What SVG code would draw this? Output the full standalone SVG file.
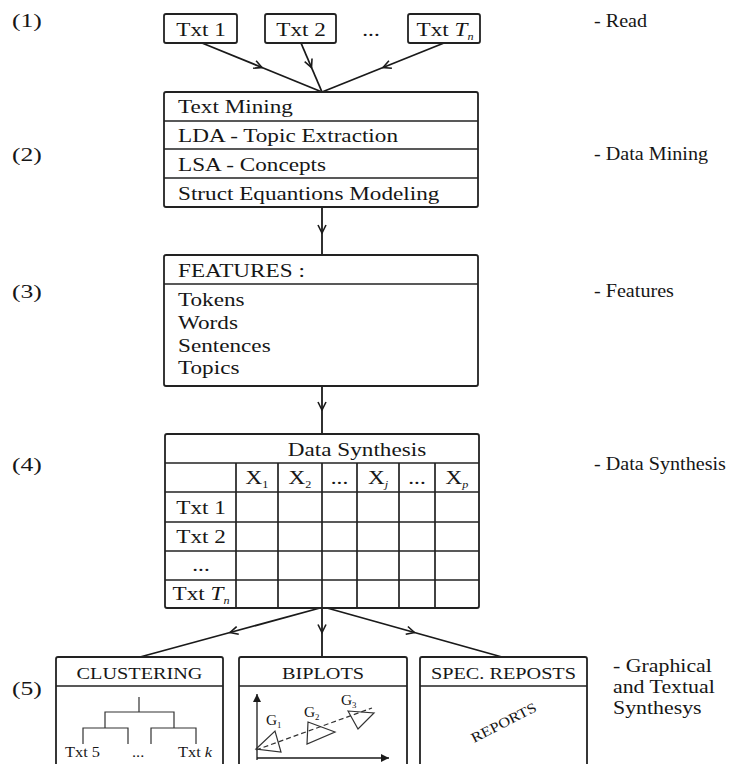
<svg xmlns="http://www.w3.org/2000/svg" width="729" height="764" viewBox="0 0 729 764">
<style>
.t{font-family:"Liberation Serif","Times New Roman",serif;font-size:19px;fill:#161616}
.h{font-family:"Liberation Serif","Times New Roman",serif;font-size:17px;fill:#161616}
.s{font-family:"Liberation Serif","Times New Roman",serif;font-size:14px;fill:#161616}
.g{font-family:"Liberation Serif","Times New Roman",serif;font-size:14px;fill:#161616}
.m{text-anchor:middle}
.box{fill:#fff;stroke:#222;stroke-width:1.8}
.ln{stroke:#222;stroke-width:1.7;fill:none}
.thin{stroke:#333;stroke-width:1.2;fill:none}
.conn{stroke:#1a1a1a;stroke-width:1.8;fill:none;marker-mid:url(#chev)}
.ax{stroke:#1a1a1a;stroke-width:1.3;fill:none;marker-end:url(#tri)}
</style>
<defs>
<marker id="chev" viewBox="0 0 10 10" refX="9" refY="5" markerWidth="10" markerHeight="10" markerUnits="userSpaceOnUse" orient="auto">
<path d="M1,1 L9,5 L1,9" fill="none" stroke="#1a1a1a" stroke-width="1.6"/>
</marker>
<marker id="tri" viewBox="0 0 10 10" refX="10" refY="5" markerWidth="9" markerHeight="8" markerUnits="userSpaceOnUse" orient="auto">
<path d="M0,0 L10,5 L0,10 z" fill="#1a1a1a"/>
</marker>
</defs>
<rect width="729" height="764" fill="#fff"/>

<g id="step-labels">
<text class="t" transform="translate(12,27) scale(1.35,1)">(1)</text>
<text class="t" transform="translate(12,161) scale(1.35,1)">(2)</text>
<text class="t" transform="translate(12,298) scale(1.35,1)">(3)</text>
<text class="t" transform="translate(12,471) scale(1.35,1)">(4)</text>
<text class="t" transform="translate(12,695) scale(1.35,1)">(5)</text>
</g>

<g id="stage-labels">
<text class="t" transform="translate(594,27) scale(1.06,1)">- Read</text>
<text class="t" transform="translate(594,160) scale(1.06,1)">- Data Mining</text>
<text class="t" transform="translate(594,297) scale(1.06,1)">- Features</text>
<text class="t" transform="translate(594,470) scale(1.06,1)">- Data Synthesis</text>
<text class="t" transform="translate(613,672) scale(1.15,1)" font-size="20">- Graphical</text>
<text class="t" transform="translate(613,693) scale(1.15,1)" font-size="20">and Textual</text>
<text class="t" transform="translate(613,714) scale(1.15,1)" font-size="20">Synthesys</text>
</g>

<g id="connectors">
<path class="conn" d="M202,43 L262,67.5 L322,92"/>
<path class="conn" d="M301,43 L311.5,67.5 L322,92"/>
<path class="conn" d="M444,43 L383,67.5 L322,92"/>
<path class="conn" d="M322,207 L322,233 L322,255"/>
<path class="conn" d="M322,386 L322,410 L322,434"/>
<path class="conn" d="M320,608 L230,632.5 L140,657"/>
<path class="conn" d="M322,608 L322,632.5 L322,657"/>
<path class="conn" d="M327,608 L414.5,632.5 L502,657"/>
</g>

<g id="txt1">
<rect class="box" x="164" y="14" width="73" height="29" rx="2"/>
<text class="t m" transform="translate(201,36) scale(1.22,1)">Txt 1</text>
</g>
<g id="txt2">
<rect class="box" x="265" y="14" width="71" height="29" rx="2"/>
<text class="t m" transform="translate(301,36) scale(1.22,1)">Txt 2</text>
</g>
<g id="txt-ellipsis">
<text class="t m" transform="translate(371,36) scale(1.22,1)">...</text>
</g>
<g id="txtTn">
<rect class="box" x="408" y="14" width="72" height="29" rx="2"/>
<text class="t m" transform="translate(445,36) scale(1.22,1)">Txt <tspan font-style="italic">T</tspan><tspan font-style="italic" font-size="10" dy="4">n</tspan></text>
</g>

<g id="data-mining">
<rect class="box" x="164" y="92" width="314" height="115" rx="2"/>
<line class="ln" x1="164" y1="121" x2="478" y2="121"/>
<line class="ln" x1="164" y1="149" x2="478" y2="149"/>
<line class="ln" x1="164" y1="178" x2="478" y2="178"/>
<text class="t" transform="translate(178,113) scale(1.22,1)">Text Mining</text>
<text class="t" transform="translate(178,142) scale(1.22,1)">LDA - Topic Extraction</text>
<text class="t" transform="translate(178,171) scale(1.22,1)">LSA - Concepts</text>
<text class="t" transform="translate(178,200) scale(1.22,1)">Struct Equantions Modeling</text>
</g>

<g id="features">
<rect class="box" x="164" y="255" width="314" height="131" rx="2"/>
<line class="ln" x1="164" y1="284" x2="478" y2="284"/>
<text class="t" transform="translate(178,277) scale(1.22,1)">FEATURES :</text>
<text class="t" transform="translate(178,306) scale(1.22,1)">Tokens</text>
<text class="t" transform="translate(178,329) scale(1.22,1)">Words</text>
<text class="t" transform="translate(178,352) scale(1.22,1)">Sentences</text>
<text class="t" transform="translate(178,374) scale(1.22,1)">Topics</text>
</g>

<g id="data-synthesis">
<rect class="box" x="165" y="434" width="314" height="174" rx="2"/>
<line class="ln" x1="165" y1="463" x2="479" y2="463"/>
<line class="ln" x1="165" y1="492" x2="479" y2="492"/>
<line class="ln" x1="165" y1="522" x2="479" y2="522"/>
<line class="ln" x1="165" y1="551" x2="479" y2="551"/>
<line class="ln" x1="165" y1="580" x2="479" y2="580"/>
<line class="ln" x1="236" y1="463" x2="236" y2="608"/>
<line class="ln" x1="278" y1="463" x2="278" y2="608"/>
<line class="ln" x1="322" y1="463" x2="322" y2="608"/>
<line class="ln" x1="357" y1="463" x2="357" y2="608"/>
<line class="ln" x1="399" y1="463" x2="399" y2="608"/>
<line class="ln" x1="435" y1="463" x2="435" y2="608"/>
<text class="t m" transform="translate(357,456) scale(1.22,1)">Data Synthesis</text>
<text class="t m" transform="translate(257,484) scale(1.22,1)">X<tspan font-size="10" dy="4">1</tspan></text>
<text class="t m" transform="translate(300,484) scale(1.22,1)">X<tspan font-size="10" dy="4">2</tspan></text>
<text class="t m" transform="translate(339.5,484) scale(1.22,1)">...</text>
<text class="t m" transform="translate(378,484) scale(1.22,1)">X<tspan font-size="10" dy="4" font-style="italic">j</tspan></text>
<text class="t m" transform="translate(417,484) scale(1.22,1)">...</text>
<text class="t m" transform="translate(457,484) scale(1.22,1)">X<tspan font-size="10" dy="4" font-style="italic">p</tspan></text>
<text class="t m" transform="translate(201,514) scale(1.22,1)">Txt 1</text>
<text class="t m" transform="translate(201,543) scale(1.22,1)">Txt 2</text>
<text class="t m" transform="translate(201,571) scale(1.22,1)">...</text>
<text class="t m" transform="translate(201,600) scale(1.22,1)">Txt <tspan font-style="italic">T</tspan><tspan font-style="italic" font-size="10" dy="4">n</tspan></text>
</g>

<g id="clustering">
<rect class="box" x="56" y="657" width="167" height="130" rx="2"/>
<line class="ln" x1="56" y1="686" x2="223" y2="686"/>
<text class="h m" transform="translate(139.5,679) scale(1.19,1)">CLUSTERING</text>
<path class="thin" d="M139,697 V712 M105,728 V712 H174 V728 M83,744 V728 H128 V744 M151,744 V728 H196 V744"/>
<text class="s" transform="translate(65,757) scale(1.17,1)">Txt 5</text>
<text class="s" transform="translate(132,757) scale(1.17,1)">...</text>
<text class="s" transform="translate(178,757) scale(1.17,1)">Txt <tspan font-style="italic">k</tspan></text>
</g>

<g id="biplots">
<rect class="box" x="239" y="657" width="168" height="130" rx="2"/>
<line class="ln" x1="239" y1="686" x2="407" y2="686"/>
<text class="h m" transform="translate(323,679) scale(1.19,1)">BIPLOTS</text>
<path class="ax" d="M257,760 V694"/>
<path class="ax" d="M257,758 H389"/>
<path class="thin" d="M256,749 L275,731 L281,752 Z"/>
<path class="thin" d="M308,722 L335,732 L307,744 Z"/>
<path class="thin" d="M348,711 L374,713 L358,729 Z"/>
<path class="thin" d="M256,750 L372,708" stroke-dasharray="5,3"/>
<text class="g" transform="translate(266,725) scale(1.1,1)">G<tspan font-size="8" dy="3">1</tspan></text>
<text class="g" transform="translate(304,717) scale(1.1,1)">G<tspan font-size="8" dy="3">2</tspan></text>
<text class="g" transform="translate(341,705) scale(1.1,1)">G<tspan font-size="8" dy="3">3</tspan></text>
</g>

<g id="spec-reports">
<rect class="box" x="420" y="657" width="167" height="130" rx="2"/>
<line class="ln" x1="420" y1="686" x2="587" y2="686"/>
<text class="h m" transform="translate(503.5,679) scale(1.19,1)">SPEC. REPOSTS</text>
<text class="s" transform="translate(474,743) rotate(-27) scale(1.18,1)">REPORTS</text>
</g>
</svg>
